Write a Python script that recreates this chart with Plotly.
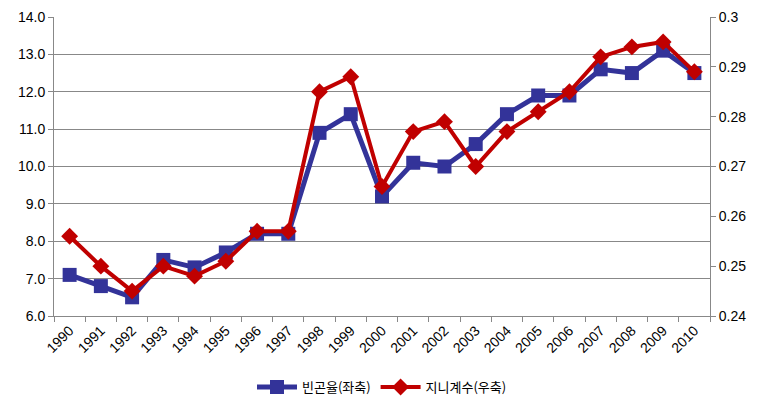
import plotly.graph_objects as go

years = [str(y) for y in range(1990, 2011)]
poverty = [7.1, 6.8, 6.5, 7.5, 7.3, 7.7, 8.2, 8.2, 10.9, 11.4, 9.2, 10.1, 10.0, 10.6, 11.4, 11.9, 11.9, 12.6, 12.5, 13.1, 12.5]
gini = [0.256, 0.250, 0.245, 0.250, 0.248, 0.251, 0.257, 0.257, 0.285, 0.288, 0.266, 0.277, 0.279, 0.270, 0.277, 0.281, 0.285, 0.292, 0.294, 0.295, 0.289]

left_ticks = [6, 7, 8, 9, 10, 11, 12, 13, 14]
right_ticks = [0.24, 0.25, 0.26, 0.27, 0.28, 0.29, 0.30]
right_labels = ["0.24", "0.25", "0.26", "0.27", "0.28", "0.29", "0.3"]

font_main = "Liberation Sans, Arial, sans-serif"

fig = go.Figure()
fig.add_trace(go.Scatter(
    x=years, y=poverty, name="빈곤율(좌축)", mode="lines+markers",
    line=dict(color="#333399", width=5),
    marker=dict(symbol="square", size=14, color="#333399"),
    yaxis="y"))
fig.add_trace(go.Scatter(
    x=years, y=gini, name="지니계수(우축)", mode="lines+markers",
    line=dict(color="#C00000", width=4),
    marker=dict(symbol="diamond", size=13, color="#C00000"),
    yaxis="y2"))

fig.update_layout(
    width=765, height=410,
    margin=dict(l=54, r=55, t=17, b=94, autoexpand=False),
    paper_bgcolor="white", plot_bgcolor="white",
    font=dict(family=font_main, size=13, color="#000000"),
    showlegend=True,
    legend=dict(orientation="h", x=0.5, xanchor="center",
                yref="container", y=0.056, yanchor="middle",
                font=dict(family="Noto Sans CJK KR", size=13), itemwidth=40),
    xaxis=dict(type="category", range=[-0.5, len(years) - 0.5], tickangle=-45, tickson="boundaries",
               ticks="outside", ticklen=5, tickcolor="#888888",
               showline=True, linecolor="#888888", linewidth=1,
               showgrid=False, tickfont=dict(size=14), automargin=False),
    yaxis=dict(range=[6, 14], tickvals=left_ticks,
               ticktext=[f"{v:.1f}" for v in left_ticks],
               showgrid=True, gridcolor="#888888", gridwidth=1,
               showline=True, linecolor="#888888", linewidth=1,
               ticks="outside", ticklen=5, tickcolor="#888888",
               zeroline=False, tickfont=dict(size=14), automargin=False),
    yaxis2=dict(range=[0.24, 0.30], overlaying="y", side="right",
                tickvals=right_ticks, ticktext=right_labels,
                showgrid=False, showline=True, linecolor="#888888", linewidth=1,
                ticks="outside", ticklen=5, tickcolor="#888888",
                zeroline=False, tickfont=dict(size=14), automargin=False),
)

fig.write_html("out.html")
